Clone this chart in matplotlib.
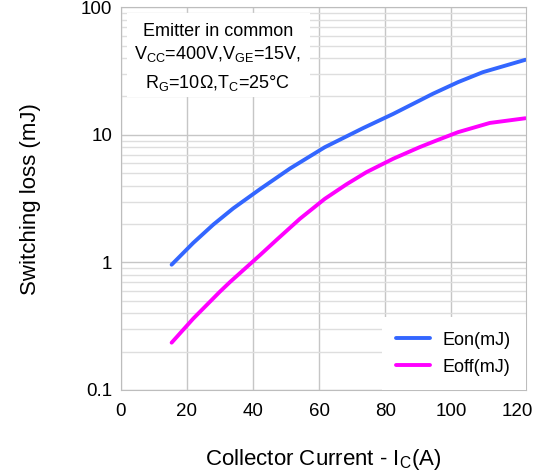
import numpy as np
import matplotlib.pyplot as plt
from matplotlib.patches import Rectangle
from matplotlib.ticker import LogLocator, FixedLocator, NullFormatter

plt.rcParams['font.family'] = ['Liberation Sans', 'DejaVu Sans']

# values
ic_on = [15.4, 21.9, 28.0, 34.0, 42.1, 51.2, 61.7, 73.3, 82.4, 90.4, 94.4, 102.0, 109.5, 122.4]
eon = [0.96, 1.42, 1.98, 2.65, 3.75, 5.45, 8.0, 11.3, 14.6, 18.6, 21.0, 25.9, 31.0, 38.8]

ic_off = [15.4, 21.9, 30.0, 33.0, 42.1, 47.1, 54.2, 61.7, 68.3, 74.3, 82.4, 90.4, 95.5, 102.0, 111.6, 122.4]
eoff = [0.235, 0.362, 0.59, 0.70, 1.14, 1.50, 2.2, 3.15, 4.1, 5.1, 6.50, 8.01, 9.04, 10.5, 12.4, 13.5]

x_ticks = [0, 20, 40, 60, 80, 100, 120]
y_ticks = [0.1, 1, 10, 100]
y_labels = ['0.1', '1', '10', '100']

fig = plt.figure(figsize=(5.37, 4.72), dpi=100)
ax = fig.add_axes([120.7 / 537, (472 - 390) / 472, 404.8 / 537, 382.7 / 472])

ax.set_yscale('log')
ax.set_xlim(0, 122.4)
ax.set_ylim(0.1, 100)

ax.xaxis.set_major_locator(FixedLocator(x_ticks))
ax.yaxis.set_major_locator(FixedLocator(y_ticks))
ax.set_yticklabels(y_labels)
ax.yaxis.set_minor_locator(LogLocator(base=10, subs=np.arange(2, 10)))
ax.yaxis.set_minor_formatter(NullFormatter())

ax.grid(True, which='major', color='#c6c6c6', linewidth=1.0)
ax.grid(True, which='minor', axis='y', color='#dedede', linewidth=1.0)
ax.get_xgridlines()[-1].set_visible(False)
ax.set_axisbelow(True)

for s in ax.spines.values():
    s.set_color('#bdbdbd')
ax.tick_params(which='both', length=0, labelsize=13.5)
ax.tick_params(axis='y', pad=6)
ax.tick_params(axis='x', pad=9)

ax.plot(ic_on, eon, color='#3366ff', linewidth=2.8, label='Eon(mJ)',
        solid_capstyle='round', solid_joinstyle='round')
ax.plot(ic_off, eoff, color='#ff00ff', linewidth=2.8, label='Eoff(mJ)',
        solid_capstyle='round', solid_joinstyle='round')

ax.set_xlabel('Collector Current - I$_\\mathregular{C}$(A)', fontsize=16, labelpad=20)
ax.set_ylabel('Switching loss (mJ)', fontsize=16, labelpad=29)

# white note box over the grid
ax.add_patch(Rectangle((0.0156, 0.766), 0.452, 0.22, transform=ax.transAxes,
                       facecolor='white', edgecolor='none', zorder=2))
ax.text(0.24, 0.937, 'Emitter in common', transform=ax.transAxes,
        ha='center', va='center', fontsize=13, zorder=3)
ax.text(0.24, 0.879, 'V$_\\mathregular{CC}$=400V,V$_\\mathregular{GE}$=15V,',
        transform=ax.transAxes, ha='center', va='center', fontsize=13, zorder=3)
ax.text(0.24, 0.803, 'R$_\\mathregular{G}$=10\u03a9,T$_\\mathregular{C}$=25\u00b0C',
        transform=ax.transAxes, ha='center', va='center', fontsize=13, zorder=3)

leg = ax.legend(loc='lower right', bbox_to_anchor=(1, 0), fontsize=13, frameon=True,
                fancybox=False, edgecolor='none', framealpha=1, handlelength=1.9,
                handletextpad=0.7, borderaxespad=0, borderpad=0.8, labelspacing=0.55)

fig.savefig('out.png', dpi=100)
